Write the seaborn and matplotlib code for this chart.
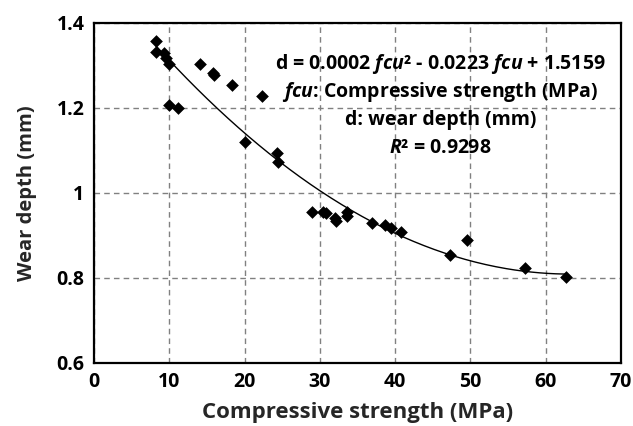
import numpy as np
import pandas as pd
import matplotlib
matplotlib.use("Agg")
import matplotlib.pyplot as plt
import seaborn as sns

# Data
strength = [8.2, 8.2, 9.3, 9.6, 9.9, 10.0, 11.1, 14.1, 15.8, 16.0, 18.3, 22.3,
            20.0, 24.3, 24.5, 29.0, 30.4, 30.8, 32.0, 32.1, 33.6, 33.6,
            36.9, 38.6, 39.4, 40.8, 47.3, 49.6, 57.2, 62.7]
wear_depth = [1.358, 1.330, 1.328, 1.318, 1.304, 1.206, 1.199, 1.303, 1.281, 1.277,
              1.253, 1.228, 1.119, 1.094, 1.072, 0.955, 0.955, 0.953, 0.940, 0.933,
              0.955, 0.945, 0.928, 0.924, 0.916, 0.907, 0.853, 0.889, 0.822, 0.802]

x_ticks = [0, 10, 20, 30, 40, 50, 60, 70]
y_ticks = [0.6, 0.8, 1.0, 1.2, 1.4]
y_tick_labels = ["0.6", "0.8", "1", "1.2", "1.4"]

eq_lines = [r"d = 0.0002 $\mathit{fcu}$² - 0.0223 $\mathit{fcu}$ + 1.5159",
            r"$\mathit{fcu}$: Compressive strength (MPa)",
            "d: wear depth (mm)",
            r"$\mathit{R}$² = 0.9298"]

sns.set_style("white")
FONT = 'Open Sans'
plt.rcParams['font.family'] = [FONT, 'DejaVu Sans']
plt.rcParams['mathtext.fontset'] = 'custom'
plt.rcParams['mathtext.rm'] = FONT + ':bold'
plt.rcParams['mathtext.it'] = FONT + ':italic:bold'
plt.rcParams['mathtext.bf'] = FONT + ':bold'

df = pd.DataFrame({"strength": strength, "wear": wear_depth})

# quadratic trendline fitted to the data
coef = np.polyfit(df["strength"], df["wear"], 2)
xs = np.linspace(min(strength), max(strength), 200)
fit = pd.DataFrame({"strength": xs, "wear": np.polyval(coef, xs)})

fig = plt.figure(figsize=(6.33, 4.26), dpi=100)
ax = fig.add_axes([94/633, 1-362.7/426, 527/633, 340/426])

ax.grid(True, color="#808080", linestyle=(0, (4, 3)), linewidth=1.0)
ax.set_axisbelow(True)

sns.lineplot(data=fit, x="strength", y="wear", ax=ax, color="black", linewidth=1.0, zorder=2)
sns.scatterplot(data=df, x="strength", y="wear", ax=ax, marker="D", s=42,
                color="black", edgecolor="black", linewidth=0, zorder=3)

ax.set_xlim(0, 70)
ax.set_ylim(0.6, 1.4)
ax.set_xticks(x_ticks)
ax.set_yticks(y_ticks)
ax.set_yticklabels(y_tick_labels)
ax.tick_params(direction="in", length=4, width=1.5, labelsize=14, colors="black", pad=7)
for lab in ax.get_xticklabels() + ax.get_yticklabels():
    lab.set_fontweight("bold")

for sp in ax.spines.values():
    sp.set_color("black")
    sp.set_linewidth(1.6)
    sp.set_visible(True)

ax.set_xlabel("Compressive strength (MPa)", fontsize=16, fontweight="bold", labelpad=7)
ax.set_ylabel("Wear depth (mm)", fontsize=14.5, fontweight="bold", labelpad=14)

for i, line in enumerate(eq_lines):
    ax.text(0.657, 0.88 - i * 0.083, line, transform=ax.transAxes, ha="center", va="center",
            fontsize=14, fontweight="bold", color="black", zorder=5)

fig.savefig("out.png", dpi=100)
